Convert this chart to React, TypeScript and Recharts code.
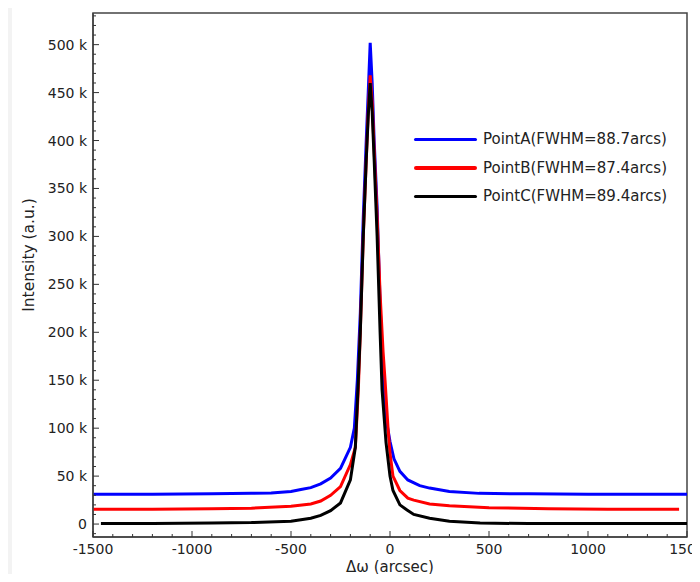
import { LineChart, Line, XAxis, YAxis, ReferenceArea } from "recharts"

// intensities in thousands (k)
const xA = [-1500, -1200, -900, -700, -600, -500, -450, -400, -350, -300, -250, -200, -180, -165, -150, -135, -120, -110, -100, -90, -80, -65, -50, -35, -20, 0, 20, 50, 90, 150, 200, 300, 450, 700, 1000, 1500]
const intensityA = [31, 31, 31.5, 32, 32.5, 34, 36, 38, 42, 48, 58, 80, 100, 150, 220, 320, 400, 450, 502, 460, 400, 330, 230, 150, 110, 86, 68, 55, 46, 40, 37.5, 34, 32, 31.5, 31, 31]

const xB = [-1500, -1200, -900, -700, -500, -400, -350, -300, -250, -200, -175, -160, -150, -135, -120, -110, -100, -90, -80, -65, -50, -35, -25, -10, 0, 15, 50, 90, 120, 200, 300, 500, 800, 1100, 1460]
const intensityB = [15.5, 15.5, 16, 16.5, 18.5, 21, 24, 30, 39, 62, 80, 140, 200, 300, 380, 430, 468, 440, 390, 320, 240, 180, 150, 100, 74, 50, 35, 27, 25, 21, 19, 17, 16, 15.5, 15.5]

const xC = [-1460, -1200, -900, -700, -500, -400, -350, -300, -250, -200, -175, -160, -150, -135, -120, -110, -100, -90, -80, -65, -50, -40, -20, 0, 15, 50, 86, 120, 200, 300, 455, 700, 1100, 1500]
const intensityC = [0.5, 0.5, 1, 1.5, 3, 6, 9, 14, 22, 46, 80, 150, 200, 300, 380, 425, 460, 430, 380, 300, 200, 140, 85, 50, 35, 20, 14.6, 10, 6, 3, 1, 0.5, 0.5, 0.5]

const seriesNames = ["PointA(FWHM=88.7arcs)", "PointB(FWHM=87.4arcs)", "PointC(FWHM=89.4arcs)"]
const seriesColors = ["#0000ff", "#ff0000", "#000000"]

const xTicks = Array.from({ length: 31 }, (_, i) => -1500 + i * 100)
const yTicks = Array.from({ length: 55 }, (_, i) => -10 + i * 10)

const zip = (xs: number[], ys: number[]) => xs.map((x, i) => ({ x, y: ys[i] }))
const series = [zip(xA, intensityA), zip(xB, intensityB), zip(xC, intensityC)]

const font = "'DejaVu Sans', Arial, sans-serif"

function XTick({ x, y, payload }: any) {
  const major = payload.value % 500 === 0
  return (
    <g>
      <line x1={x} x2={x} y1={y} y2={y - (major ? 6 : 3)} stroke="#333" strokeWidth={1} />
      {major && (
        <text x={x} y={y + 17} textAnchor="middle" fontSize={14} fill="#222" fontFamily={font}>
          {payload.value}
        </text>
      )}
    </g>
  )
}

function YTick({ x, y, payload }: any) {
  const v = payload.value
  const major = v % 50 === 0
  return (
    <g>
      <line x1={x} x2={x + (major ? 6 : 3)} y1={y} y2={y} stroke="#333" strokeWidth={1} />
      {major && v >= 0 && v <= 500 && (
        <text x={x - 6} y={y + 5} textAnchor="end" fontSize={14} fill="#222" fontFamily={font}>
          {v === 0 ? "0" : `${v} k`}
        </text>
      )}
    </g>
  )
}

export default function App() {
  return (
    <div style={{ position: "relative", width: 700, height: 582, margin: -8, background: "#f3f3f3", overflow: "hidden" }}>
      <div style={{ position: "absolute", left: 12, top: 3, width: 688, height: 579, background: "#fff" }} />
      <div style={{ position: "absolute", left: 0, top: 0 }}>
        <LineChart width={700} height={582} margin={{ top: 13, right: 13, left: 0, bottom: 0 }}>
          <XAxis
            dataKey="x"
            type="number"
            domain={[-1500, 1500]}
            ticks={xTicks}
            interval={0}
            height={45}
            tickSize={0}
            tickMargin={0}
            tickLine={false}
            tick={<XTick />}
            axisLine={{ stroke: "#444", strokeWidth: 1.5 }}
            allowDataOverflow
            label={{
              content: () => (
                <text x={390} y={572} textAnchor="middle" fontSize={15} fill="#222" fontFamily={font}>
                  Δω (arcsec)
                </text>
              ),
            }}
          />
          <YAxis
            type="number"
            domain={[-13.5, 533]}
            ticks={yTicks}
            interval={0}
            width={93}
            tickSize={0}
            tickMargin={0}
            tickLine={false}
            tick={<YTick />}
            axisLine={{ stroke: "#444", strokeWidth: 1.5 }}
            allowDataOverflow
            label={{
              content: () => (
                <text x={34} y={255} textAnchor="middle" fontSize={15.5} fill="#222" fontFamily={font} transform="rotate(-90 34 255)">
                  Intensity (a.u.)
                </text>
              ),
            }}
          />
          <ReferenceArea x1={-1500} x2={1500} y1={-13.5} y2={533} fill="none" stroke="#444" strokeWidth={1.5} />
          {series.map((d, i) => (
            <Line
              key={seriesNames[i]}
              data={d}
              dataKey="y"
              name={seriesNames[i]}
              type="linear"
              stroke={seriesColors[i]}
              strokeWidth={3}
              dot={false}
              isAnimationActive={false}
            />
          ))}
        </LineChart>
      </div>
      <div style={{ position: "absolute", left: 414, top: 125, fontFamily: font, fontSize: 15, color: "#222" }}>
        {seriesNames.map((name, i) => (
          <div key={name} style={{ display: "flex", alignItems: "center", height: 28.5 }}>
            <div style={{ width: 63, height: 3.5, background: seriesColors[i], borderRadius: 2, marginRight: 6 }} />
            <span>{name}</span>
          </div>
        ))}
      </div>
    </div>
  )
}
